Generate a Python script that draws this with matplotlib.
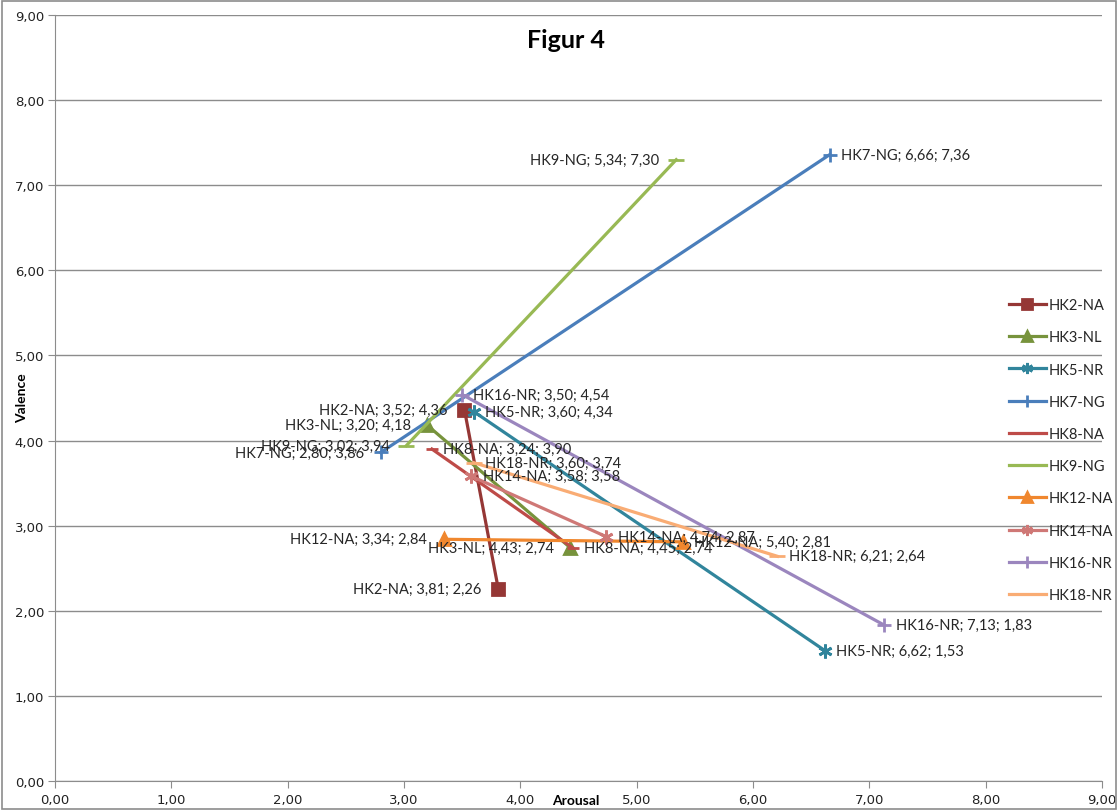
import matplotlib.pyplot as plt
from matplotlib.ticker import FuncFormatter, MultipleLocator
from matplotlib.patches import Rectangle

# series names and their two (arousal, valence) points
names = ["HK2-NA", "HK3-NL", "HK5-NR", "HK7-NG", "HK8-NA",
         "HK9-NG", "HK12-NA", "HK14-NA", "HK16-NR", "HK18-NR"]
arousal = [[3.52, 3.81], [3.20, 4.43], [3.60, 6.62], [2.80, 6.66], [3.24, 4.45],
           [3.02, 5.34], [3.34, 5.40], [3.58, 4.74], [3.50, 7.13], [3.60, 6.21]]
valence = [[4.36, 2.26], [4.18, 2.74], [4.34, 1.53], [3.86, 7.36], [3.90, 2.74],
           [3.94, 7.30], [2.84, 2.81], [3.58, 2.87], [4.54, 1.83], [3.74, 2.64]]

colors = ["#953735", "#77933C", "#31859C", "#4A7EBB", "#BE4B48",
          "#98B954", "#F0872E", "#CF7876", "#9B86BE", "#F9AC74"]
asterisk = (6, 2, 0)
markers = ["s", "^", asterisk, "+", "_", "_", "^", asterisk, "+", "_"]
msizes = [9, 9, 10, 10, 8, 11, 9, 10, 10, 11]
# label side for start / end point of each series
sides = [("l", "l"), ("l", "l"), ("r", "r"), ("l", "r"), ("r", "r"),
         ("l", "l"), ("l", "r"), ("r", "r"), ("r", "r"), ("r", "r")]

lab_font = "Lato"

def fmt(v):
    return ("%.2f" % v).replace(".", ",")

fig = plt.figure(figsize=(11.18, 8.12), dpi=100)
ax = fig.add_axes([55 / 1118, 30 / 812, 1047 / 1118, 766 / 812])

for i, n in enumerate(names):
    ax.plot(arousal[i], valence[i], color=colors[i], lw=2.3,
            marker=markers[i], ms=msizes[i], mew=2, mec=colors[i],
            mfc=colors[i], label=n, zorder=3)
    for j in range(2):
        x, y = arousal[i][j], valence[i][j]
        txt = "%s; %s; %s" % (n, fmt(x), fmt(y))
        if sides[i][j] == "r":
            ax.annotate(txt, (x, y), xytext=(8, 0), textcoords="offset points",
                        ha="left", va="center", fontsize=10.5,
                        family=lab_font, color="#262626", zorder=4)
        else:
            ax.annotate(txt, (x, y), xytext=(-12, 0), textcoords="offset points",
                        ha="right", va="center", fontsize=10.5,
                        family=lab_font, color="#262626", zorder=4)

ax.set_xlim(0, 9)
ax.set_ylim(0, 9)
ax.xaxis.set_major_locator(MultipleLocator(1))
ax.yaxis.set_major_locator(MultipleLocator(1))
ax.xaxis.set_major_formatter(FuncFormatter(lambda v, p: fmt(v)))
ax.yaxis.set_major_formatter(FuncFormatter(lambda v, p: fmt(v)))
ax.grid(axis="y", color="#8C8C8C", lw=1)
ax.set_axisbelow(True)
for s in ["top", "right"]:
    ax.spines[s].set_visible(False)
for s in ["left", "bottom"]:
    ax.spines[s].set_color("#8C8C8C")
ax.tick_params(axis="both", colors="#8C8C8C", length=5, labelsize=9.5,
               labelcolor="#222222", pad=3)
ax.tick_params(axis="x", pad=4)

fig.text(566 / 1118, 1 - 40 / 812, "Figur 4", ha="center", va="center",
         fontsize=18, fontweight="bold", family=lab_font)
fig.text(22 / 1118, 1 - 398 / 812, "Valence", ha="center", va="center",
         rotation=90, fontsize=10, fontweight="bold", family=lab_font)
fig.text(576 / 1118, 1 - 801 / 812, "Arousal", ha="center", va="center",
         fontsize=10, fontweight="bold", family=lab_font)

leg = fig.legend(loc="upper left", bbox_to_anchor=(996 / 1118, 1 - 286 / 812),
                 frameon=False, handlelength=2.5, markerscale=0.8,
                 labelspacing=1.25, handletextpad=0.2,
                 prop={"family": lab_font, "size": 10.5})
for t in leg.get_texts():
    t.set_color("#262626")

fig.add_artist(Rectangle((0.002, 0.002), 0.996, 0.996, transform=fig.transFigure,
                         fill=False, ec="#8C8C8C", lw=1.2))

fig.savefig("out.png", dpi=100)
